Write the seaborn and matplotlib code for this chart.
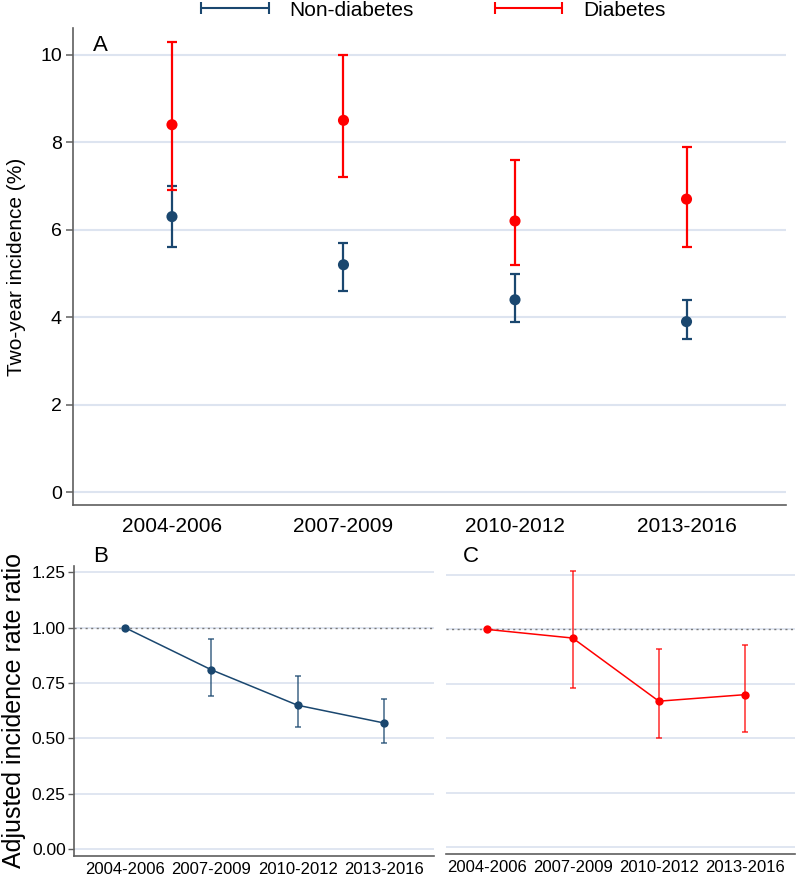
import numpy as np
import pandas as pd
import matplotlib
matplotlib.use("Agg")
import matplotlib.pyplot as plt
from matplotlib.lines import Line2D
import seaborn as sns

# ---------------- data ----------------
periods = ["2004-2006", "2007-2009", "2010-2012", "2013-2016"]

nondiab_inc = [6.3, 5.2, 4.4, 3.9]
nondiab_lo = [5.6, 4.6, 3.9, 3.5]
nondiab_hi = [7.0, 5.7, 5.0, 4.4]

diab_inc = [8.4, 8.5, 6.2, 6.7]
diab_lo = [6.9, 7.2, 5.2, 5.6]
diab_hi = [10.3, 10.0, 7.6, 7.9]

nondiab_irr = [1.00, 0.81, 0.65, 0.57]
nondiab_irr_lo = [1.00, 0.69, 0.55, 0.48]
nondiab_irr_hi = [1.00, 0.95, 0.78, 0.68]

diab_irr = [1.00, 0.96, 0.67, 0.70]
diab_irr_lo = [1.00, 0.73, 0.50, 0.53]
diab_irr_hi = [1.00, 1.27, 0.91, 0.93]

a_yticks = [0, 2, 4, 6, 8, 10]
bc_yticks = [0.00, 0.25, 0.50, 0.75, 1.00, 1.25]

# ---------------- style ----------------
sns.set_theme(style="white")
plt.rcParams["font.family"] = ["Liberation Sans", "DejaVu Sans"]
plt.rcParams["text.color"] = "black"
plt.rcParams["axes.labelcolor"] = "black"
plt.rcParams["xtick.labelcolor"] = "black"
plt.rcParams["ytick.labelcolor"] = "black"

BLUE = "#1a476f"
RED = "#ff0000"
GRID = "#dde4f0"
SPINE = "#5f5f5f"

W, H = 796, 875
fig = plt.figure(figsize=(W / 100, H / 100), dpi=100)

def px_axes(left, top, right, bottom):
    return fig.add_axes([left / W, 1 - bottom / H, (right - left) / W, (bottom - top) / H])

axA = px_axes(73, 28, 786, 505)
axB = px_axes(74, 566, 434, 856)
axC = px_axes(446, 566, 795, 854)

x = np.arange(len(periods))

# ---------------- panel A ----------------
dfA = pd.DataFrame({
    "x": np.concatenate([x, x]),
    "y": nondiab_inc + diab_inc,
    "group": ["Non-diabetes"] * 4 + ["Diabetes"] * 4,
})
for inc, lo, hi, col in [(nondiab_inc, nondiab_lo, nondiab_hi, BLUE),
                         (diab_inc, diab_lo, diab_hi, RED)]:
    inc = np.array(inc); lo = np.array(lo); hi = np.array(hi)
    axA.errorbar(x, inc, yerr=[inc - lo, hi - inc], fmt="none", ecolor=col,
                 elinewidth=1.6, capsize=3.3, capthick=1.6, zorder=2)
sns.scatterplot(data=dfA, x="x", y="y", hue="group",
                palette={"Non-diabetes": BLUE, "Diabetes": RED},
                s=64, edgecolor="none", legend=False, zorder=3, ax=axA)

axA.set_xlim(-0.577, 3.58)
axA.set_ylim(-0.29, 10.61)
axA.set_yticks(a_yticks)
axA.set_xticks(x)
axA.set_xticklabels(periods)
axA.set_xlabel("")
axA.set_ylabel("Two-year incidence (%)", fontsize=15, labelpad=10)
axA.yaxis.grid(True, color=GRID, lw=1.5)
axA.set_axisbelow(True)
axA.tick_params(axis="y", length=5, width=1.1, color=SPINE, labelsize=14, pad=3, left=True)
axA.tick_params(axis="x", length=0, labelsize=15, pad=9)
for s in ["top", "right"]:
    axA.spines[s].set_visible(False)
for s in ["left", "bottom"]:
    axA.spines[s].set_color(SPINE)
    axA.spines[s].set_linewidth(1.2)
axA.text(0.028, 0.985, "A", transform=axA.transAxes, fontsize=16, va="top", ha="left")

# ---------------- panels B, C ----------------
def rr_panel(ax, est, lo, hi, col, xlim, ylim, show_y):
    est = np.array(est); lo = np.array(lo); hi = np.array(hi)
    ax.axhline(1.0, color="#7a7a7a", lw=1.0, ls=(0, (1.5, 2.5)), zorder=1)
    df = pd.DataFrame({"x": x, "y": est})
    sns.lineplot(data=df, x="x", y="y", color=col, lw=1.1, marker="o",
                 markersize=6, markeredgewidth=0, zorder=3, ax=ax)
    ax.errorbar(x[1:], est[1:], yerr=[est[1:] - lo[1:], hi[1:] - est[1:]], fmt="none",
                ecolor=col, alpha=0.7, elinewidth=1.3, capsize=2.2, capthick=1.3, zorder=2)
    ax.set_xlim(*xlim)
    ax.set_ylim(*ylim)
    ax.set_yticks(bc_yticks)
    ax.set_yticklabels([f"{v:.2f}" for v in bc_yticks])
    ax.set_xticks(x)
    ax.set_xticklabels(periods)
    ax.set_xlabel("")
    ax.set_ylabel("")
    ax.yaxis.grid(True, color=GRID, lw=1.3)
    ax.set_axisbelow(True)
    ax.tick_params(axis="x", length=0, labelsize=12, pad=4)
    for s in ["top", "right"]:
        ax.spines[s].set_visible(False)
    ax.spines["bottom"].set_color(SPINE)
    ax.spines["bottom"].set_linewidth(1.2)
    if show_y:
        ax.spines["left"].set_color(SPINE)
        ax.spines["left"].set_linewidth(1.2)
        ax.tick_params(axis="y", length=4, width=1.0, color=SPINE, labelsize=12.5, pad=2, left=True)
    else:
        ax.spines["left"].set_visible(False)
        ax.tick_params(axis="y", length=0, labelleft=False)

rr_panel(axB, nondiab_irr, nondiab_irr_lo, nondiab_irr_hi, BLUE,
         (-0.59, 3.58), (-0.030, 1.278), True)
rr_panel(axC, diab_irr, diab_irr_lo, diab_irr_hi, RED,
         (-0.47, 3.58), (-0.032, 1.291), False)

axB.set_ylabel("Adjusted incidence rate ratio", fontsize=18, labelpad=4)
fig.text(93 / W, 1 - 546 / H, "B", fontsize=16, va="top", ha="left")
fig.text(463 / W, 1 - 546 / H, "C", fontsize=16, va="top", ha="left")

# ---------------- legend ----------------
handles = [
    Line2D([0], [0], color=BLUE, lw=1.5, marker="|", markersize=9, markeredgewidth=1.5),
    Line2D([0], [0], color=RED, lw=1.5, marker="|", markersize=9, markeredgewidth=1.5),
]
fig.legend(handles, ["Non-diabetes", "Diabetes"], loc="center",
           bbox_to_anchor=(430 / W, 1 - 10 / H), ncol=2, frameon=False,
           fontsize=15, numpoints=2, handlelength=3.85, handletextpad=0.68,
           columnspacing=3.6, borderpad=0, borderaxespad=0)

fig.savefig("out.png", dpi=100)
